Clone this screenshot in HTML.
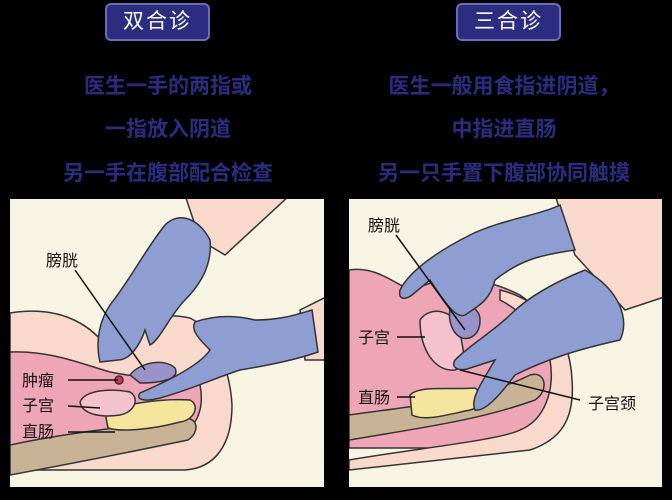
<!DOCTYPE html>
<html><head><meta charset="utf-8"><style>
html,body{margin:0;padding:0;background:#000;}
body{width:672px;height:500px;position:relative;overflow:hidden;font-family:"Liberation Sans","Noto Sans CJK SC",sans-serif;}
.badge{position:absolute;top:3px;width:105px;height:38px;background:#2c2d80;border:2px solid #6a6cb5;border-radius:6px;box-sizing:border-box;color:#fff;font-size:21px;text-align:center;line-height:34px;letter-spacing:2px;}
.t{position:absolute;color:#2a2c80;font-weight:bold;font-size:21px;text-align:center;white-space:nowrap;}
svg{position:absolute;left:0;top:0;}
</style></head><body>
<div class="badge" style="left:105px">双合诊</div>
<div class="badge" style="left:456px">三合诊</div>
<div class="t" style="left:0;width:336px;top:70px">医生一手的两指或</div>
<div class="t" style="left:0;width:336px;top:113px">一指放入阴道</div>
<div class="t" style="left:0;width:336px;top:157px">另一手在腹部配合检查</div>
<div class="t" style="left:336px;width:336px;top:70px">医生一般用食指进阴道，</div>
<div class="t" style="left:336px;width:336px;top:113px">中指进直肠</div>
<div class="t" style="left:336px;width:336px;top:157px">另一只手置下腹部协同触摸</div>
<svg width="672" height="500" viewBox="0 0 672 500">
<defs>
<clipPath id="cl"><rect x="10" y="199" width="314" height="288"/></clipPath>
<clipPath id="cr"><rect x="349" y="199" width="313" height="288"/></clipPath>
</defs>
<rect x="10" y="199" width="314" height="288" fill="#f8f4e4"/>
<rect x="349" y="199" width="313" height="288" fill="#f8f4e4"/>
<g stroke="#333" stroke-width="1.5" clip-path="url(#cl)">
<path d="M10,313 C60,305 90,325 105,345 C120,325 150,310 190,318 C215,330 230,370 232,405 C232,445 215,468 185,470 L10,470 Z" fill="#f8d9cc"/>
<path d="M10,352 C50,350 85,365 110,372 C150,380 180,380 200,385 C205,410 195,430 180,432 L10,455 Z" fill="#eea6b6"/>
<path d="M10,445 C80,430 150,425 185,418 C198,418 200,432 188,440 C140,450 80,462 10,475 Z" fill="#c8b396"/>
<path d="M105,412 C120,405 160,398 190,400 C200,405 195,420 180,422 C150,430 120,432 108,428 Z" fill="#f4e49c"/>
<path d="M80,402 C85,390 110,388 130,392 C140,398 135,412 120,415 C100,418 82,414 80,402 Z" fill="#f4c2cc"/>
<path d="M130,375 C140,362 165,358 175,368 C180,378 165,383 140,383 Z" fill="#9a93cb"/>
<circle cx="119" cy="380" r="4" fill="#e0334a"/>
<path d="M185,195 L290,195 L225,255 L200,240 Z" fill="#f8d9cc"/>
<path d="M300,310 L330,295 L330,360 L305,360 Z" fill="#f8d9cc"/>
<path d="M165,225 C180,210 200,220 210,240 C212,260 205,280 185,300 C170,315 160,340 150,345 L145,330 C140,345 130,360 118,360 L100,362 C95,340 100,320 110,305 C130,280 145,250 165,225 Z" fill="#8f9ed2"/>
<path d="M312,310 C295,315 280,320 255,320 C235,315 215,315 195,322 C190,330 200,340 210,350 C200,365 170,380 140,393 C135,400 145,402 160,398 C190,390 215,378 240,370 C270,365 295,360 318,352 Z" fill="#8f9ed2"/>
</g>
<g stroke="#333" stroke-width="1.5" clip-path="url(#cr)">
<path d="M349,270 C380,265 400,290 415,290 C430,280 470,270 520,295 C555,320 570,360 570,400 C570,430 550,445 520,448 L349,448 Z" fill="#eea6b6"/>
<path d="M500,290 C540,300 570,330 572,380 C575,420 560,440 530,450 L349,470 L349,460 C420,448 500,440 520,430 C545,420 555,390 550,360 C540,330 520,310 500,300 Z" fill="#f8d9cc"/>
<path d="M349,415 C420,405 480,400 530,375 C545,370 550,390 535,400 C480,420 420,428 349,440 Z" fill="#c8b396"/>
<path d="M410,395 C420,385 450,390 475,388 C485,395 480,408 470,410 C450,414 425,422 412,415 Z" fill="#f4e49c"/>
<path d="M420,320 C430,305 455,310 460,330 C462,350 470,365 455,370 C435,372 420,350 420,320 Z" fill="#f4c2cc"/>
<path d="M450,310 C460,300 480,305 480,320 C480,335 470,340 462,338 C452,334 448,320 450,310 Z" fill="#9a93cb"/>
<path d="M555,195 L670,195 L670,295 L625,310 L575,255 Z" fill="#f8d9cc"/>
<path d="M560,205 C540,215 500,220 470,235 C440,250 410,270 400,290 C398,300 405,300 412,295 L430,280 C440,295 455,320 465,315 C480,305 490,300 495,280 C520,260 540,255 575,250 Z" fill="#8f9ed2"/>
<path d="M585,270 C560,280 530,295 510,315 C495,330 470,345 455,360 C450,368 460,372 470,368 L495,360 C480,385 470,400 475,410 C485,412 500,395 515,375 C545,360 575,350 620,340 C630,320 620,290 585,270 Z" fill="#8f9ed2"/>
</g>
<g stroke="#111" stroke-width="1.5" fill="none">
<line x1="75" y1="270" x2="145" y2="370"/>
<line x1="68" y1="380" x2="118" y2="380"/>
<line x1="68" y1="406" x2="100" y2="408"/>
<line x1="68" y1="432" x2="115" y2="432"/>
<line x1="396" y1="235" x2="465" y2="330"/>
<line x1="397" y1="337" x2="425" y2="337"/>
<line x1="397" y1="397" x2="415" y2="397"/>
<line x1="460" y1="370" x2="580" y2="400"/>
</g>
<g font-family="Liberation Sans,Noto Sans CJK SC,sans-serif" font-size="16" fill="#111">
<text x="46" y="266">膀胱</text>
<text x="22" y="386">肿瘤</text>
<text x="22" y="411">子宫</text>
<text x="22" y="437">直肠</text>
<text x="368" y="231">膀胱</text>
<text x="358" y="343">子宫</text>
<text x="358" y="403">直肠</text>
<text x="588" y="409">子宫颈</text>
</g>
</svg>
</body></html>
